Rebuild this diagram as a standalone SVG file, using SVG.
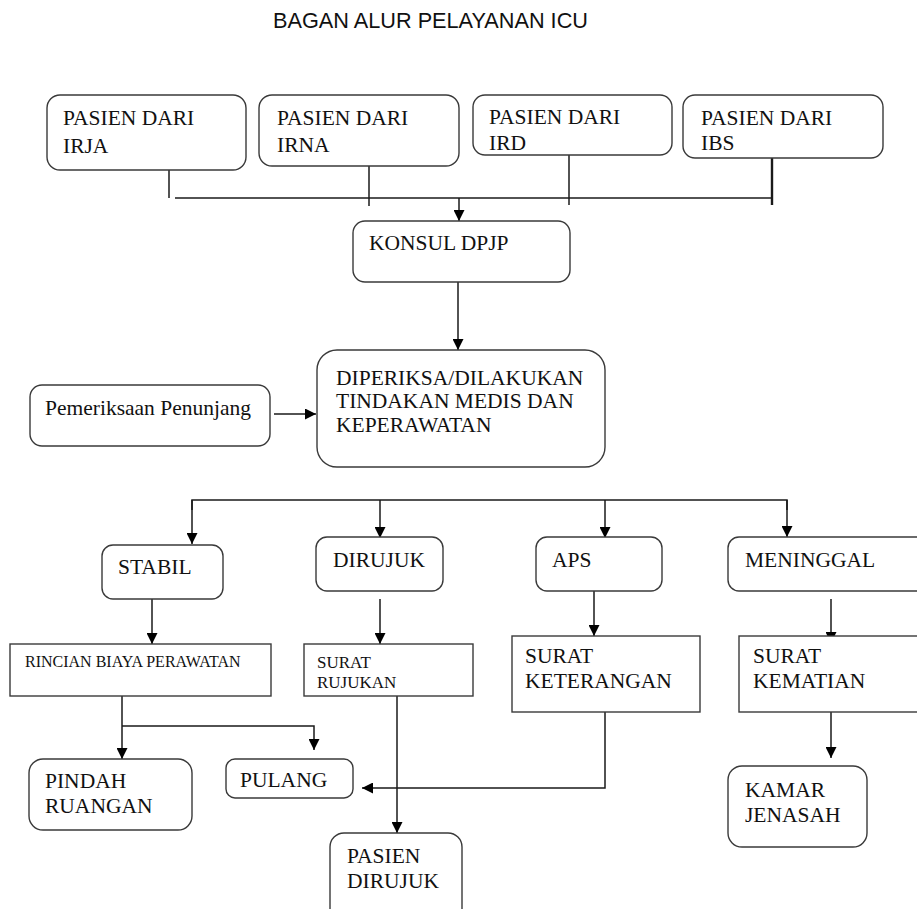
<svg xmlns="http://www.w3.org/2000/svg" width="917" height="909" viewBox="0 0 917 909">
<defs>
<style>
.bx{fill:#fff;stroke:#3a3a3a;stroke-width:1.4}
.t{font-family:"Liberation Serif","Times New Roman",serif;font-size:21.5px;fill:#111}
.s17{font-size:17px}
.s16{font-size:16px}
.title{font-family:"Liberation Sans",Arial,sans-serif;font-size:21.7px;fill:#111}
.c{fill:none;stroke:#1a1a1a;stroke-width:1.5}
.ca{fill:none;stroke:#1a1a1a;stroke-width:1.5;marker-end:url(#ah)}
</style>
<marker id="ah" markerUnits="userSpaceOnUse" markerWidth="11" markerHeight="11" refX="10" refY="5" orient="auto" viewBox="0 0 10 10">
<path d="M0,0 L10,5 L0,10 z" fill="#000"/>
</marker>
</defs>
<rect width="917" height="909" fill="#fff"/>
<text class="title" x="273" y="28">BAGAN ALUR PELAYANAN ICU</text>

<g id="connectors">
<line class="c" x1="169" y1="149" x2="169" y2="198"/>
<line class="c" x1="369" y1="156" x2="369" y2="206"/>
<line class="c" x1="569" y1="155" x2="569" y2="205"/>
<line class="c" x1="772" y1="156" x2="772" y2="205" style="stroke-width:2.4"/>
<line class="c" x1="175" y1="198" x2="772" y2="198"/>
<line class="ca" x1="459" y1="198" x2="459" y2="221"/>
<line class="ca" x1="458" y1="282" x2="458" y2="350"/>
<line class="ca" x1="274" y1="414" x2="316" y2="414"/>
<polyline class="c" points="192,510 192,500 787,500 787,510" style="stroke-linejoin:miter"/>
<line class="ca" x1="192" y1="500" x2="192" y2="544"/>
<line class="ca" x1="787" y1="500" x2="787" y2="537"/>
<line class="ca" x1="380" y1="500" x2="380" y2="538"/>
<line class="ca" x1="605" y1="500" x2="605" y2="538"/>
<line class="ca" x1="152" y1="599" x2="152" y2="644"/>
<line class="ca" x1="380" y1="599" x2="380" y2="644"/>
<line class="ca" x1="594" y1="591" x2="594" y2="636"/>
<line class="ca" x1="831" y1="599" x2="831" y2="643"/>
<line class="ca" x1="122" y1="696" x2="122" y2="759"/>
<polyline class="ca" points="122,726 314,726 314,750"/>
<line class="ca" x1="397" y1="696" x2="397" y2="833"/>
<polyline class="ca" points="605,712 605,788 362,788"/>
<line class="ca" x1="831" y1="712" x2="831" y2="758"/>
</g>

<g id="irja"><rect class="bx" x="47" y="95" width="199" height="75" rx="13"/><text class="t" x="63" y="125">PASIEN DARI</text><text class="t" x="63" y="153">IRJA</text></g>
<g id="irna"><rect class="bx" x="259" y="95" width="200" height="71" rx="13"/><text class="t" x="277" y="125">PASIEN DARI</text><text class="t" x="277" y="152">IRNA</text></g>
<g id="ird"><rect class="bx" x="473" y="95" width="199" height="60" rx="12"/><text class="t" x="489" y="124">PASIEN DARI</text><text class="t" x="489" y="150">IRD</text></g>
<g id="ibs"><rect class="bx" x="683" y="95" width="200" height="63" rx="12"/><text class="t" x="701" y="125">PASIEN DARI</text><text class="t" x="701" y="150">IBS</text></g>
<g id="konsul"><rect class="bx" x="353" y="221" width="217" height="61" rx="12"/><text class="t" x="369" y="250">KONSUL DPJP</text></g>
<g id="diperiksa"><rect class="bx" x="317" y="350" width="288" height="117" rx="20"/><text class="t" x="336" y="385">DIPERIKSA/DILAKUKAN</text><text class="t" x="336" y="408">TINDAKAN MEDIS DAN</text><text class="t" x="336" y="432">KEPERAWATAN</text></g>
<g id="penunjang"><rect class="bx" x="30" y="385" width="240" height="61" rx="12"/><text class="t" x="45" y="415">Pemeriksaan Penunjang</text></g>
<g id="stabil"><rect class="bx" x="102" y="545" width="121" height="54" rx="11"/><text class="t" x="118" y="574">STABIL</text></g>
<g id="dirujuk"><rect class="bx" x="316" y="537" width="127" height="54" rx="11"/><text class="t" x="333" y="567">DIRUJUK</text></g>
<g id="aps"><rect class="bx" x="536" y="537" width="126" height="54" rx="11"/><text class="t" x="552" y="567">APS</text></g>
<g id="meninggal"><rect class="bx" x="728" y="537" width="210" height="54" rx="11"/><text class="t" x="745" y="567">MENINGGAL</text></g>
<g id="rincian"><rect class="bx" x="10" y="644" width="261" height="52"/><text class="t s16" x="25" y="667">RINCIAN BIAYA PERAWATAN</text></g>
<g id="suratrujukan"><rect class="bx" x="304" y="644" width="169" height="52"/><text class="t s17" x="317" y="668">SURAT</text><text class="t s17" x="317" y="688">RUJUKAN</text></g>
<g id="suratket"><rect class="bx" x="512" y="636" width="188" height="76"/><text class="t" x="525" y="663">SURAT</text><text class="t" x="525" y="688">KETERANGAN</text></g>
<g id="suratkematian"><rect class="bx" x="739" y="636" width="200" height="76"/><text class="t" x="753" y="663">SURAT</text><text class="t" x="753" y="688">KEMATIAN</text></g>
<g id="pindah"><rect class="bx" x="29" y="759" width="163" height="71" rx="14"/><text class="t" x="45" y="788">PINDAH</text><text class="t" x="45" y="813">RUANGAN</text></g>
<g id="pulang"><rect class="bx" x="226" y="759" width="127" height="39" rx="9"/><text class="t" x="240" y="787">PULANG</text></g>
<g id="pasiendirujuk"><rect class="bx" x="330" y="833" width="132" height="90" rx="14"/><text class="t" x="347" y="863">PASIEN</text><text class="t" x="347" y="888">DIRUJUK</text></g>
<g id="kamar"><rect class="bx" x="728" y="766" width="139" height="81" rx="14"/><text class="t" x="745" y="797">KAMAR</text><text class="t" x="745" y="822">JENASAH</text></g>
</svg>
